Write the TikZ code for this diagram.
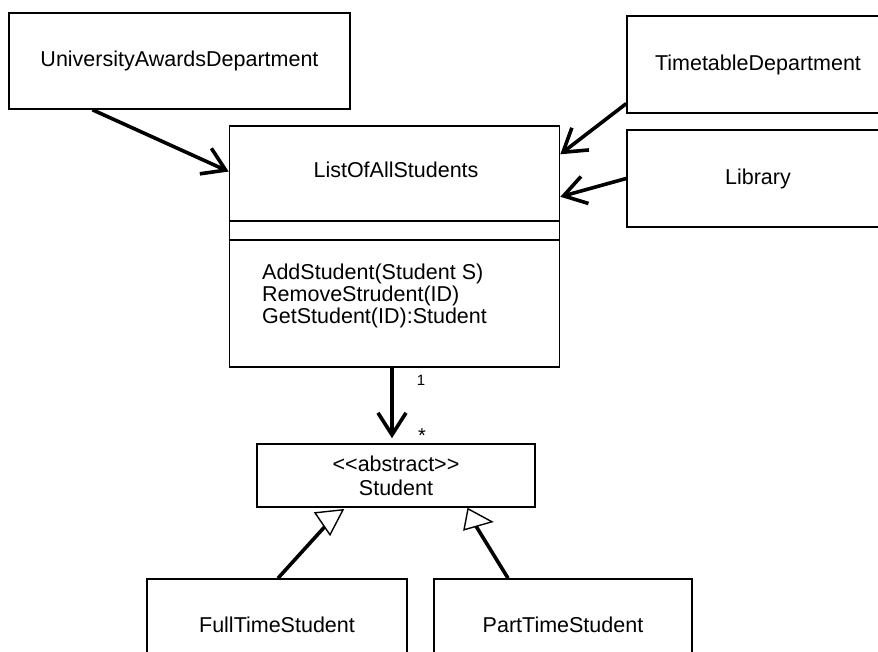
\documentclass[tikz,border=0pt]{standalone}
\usepackage{fontspec}
\setmainfont{Liberation Sans}[Ligatures=TeXOff]
\usetikzlibrary{arrows.meta,calc}
\begin{document}
\begin{tikzpicture}[x=1pt,y=-1pt,
  box/.style={draw, line width=1.6pt, rectangle, inner sep=0pt, align=center,
    font=\fontsize{21.5}{24}\selectfont},
  lbl/.style={inner sep=0pt, font=\fontsize{21.5}{22}\selectfont},
  mult/.style={inner sep=0pt, font=\fontsize{15}{15}\selectfont},
  assoc/.style={line width=3.6pt, -{Straight Barb[length=22pt,width=28pt,line width=3.6pt]}},
  shaft/.style={line width=3.6pt},
  gentri/.style={draw, line width=1.4pt, fill=white, line join=miter}
]
\useasboundingbox (0,0) rectangle (878,652);
\clip (0,0) rectangle (878,652);
\fill[white] (0,0) rectangle (878,652);

% classes
\node[box, minimum width=341pt, minimum height=96pt] (uad) at (179.5,61) {UniversityAwardsDepartment};
\node[box, minimum width=262pt, minimum height=97pt] (tt) at (758,64.5) {TimetableDepartment};
\node[box, minimum width=262pt, minimum height=97pt] (lib) at (758,178.5) {Library};
\node[box, minimum width=330pt, minimum height=241pt] (list) at (394.5,246.5) {};
\node[lbl] (listname) at (396,170) {ListOfAllStudents};
\draw[line width=1.6pt] ($(list.north west)+(0,96)$) -- ($(list.north east)+(0,96)$);
\draw[line width=1.6pt] ($(list.north west)+(0,115)$) -- ($(list.north east)+(0,115)$);
\node[lbl, align=left, anchor=north west] (ops) at (262,263.5)
  {AddStudent(Student S)\\RemoveStrudent(ID)\\GetStudent(ID):Student};
\node[box, minimum width=278pt, minimum height=63pt] (student) at (396,475.5)
  {<<abstract>>\\Student};
\node[box, minimum width=260pt, minimum height=92pt] (ft) at (277,625) {FullTimeStudent};
\node[box, minimum width=258pt, minimum height=92pt] (pt) at (563,625) {PartTimeStudent};

% associations
\draw[assoc] ($(uad.south west)!0.246!(uad.south east)$) -- ($(list.north west)!0.191!(list.south west)$);
\draw[assoc] ($(tt.north west)!0.897!(tt.south west)$) -- ($(list.north east)!0.12!(list.south east)$);
\draw[assoc] (lib.west) -- ($(list.north east)!0.295!(list.south east)$);
\draw[assoc] ($(list.south)+(-2.5,0)$) -- ($(student.north)+(-4,-5)$);
\node[mult] (one) at (421,380) {1};
\node[mult, font=\fontsize{20}{20}\selectfont] (many) at (422,436) {*};

% generalizations
\coordinate (g1) at ($(student.south)+(-68.5,15.9)$);
\coordinate (g2) at ($(student.south)+(77.9,14.9)$);
\draw[shaft] ($(ft.north)+(1,0)$) -- (g1);
\draw[shaft] ($(pt.north)+(-55,0)$) -- (g2);
\draw[gentri] ($(student.south)+(-81,5)$) -- ($(student.south)+(-53,2)$) -- ($(student.south)+(-66,27)$) -- cycle;
\draw[gentri] ($(student.south)+(72,1)$) -- ($(student.south)+(96,14)$) -- ($(student.south)+(68,22)$) -- cycle;
\end{tikzpicture}
\end{document}
